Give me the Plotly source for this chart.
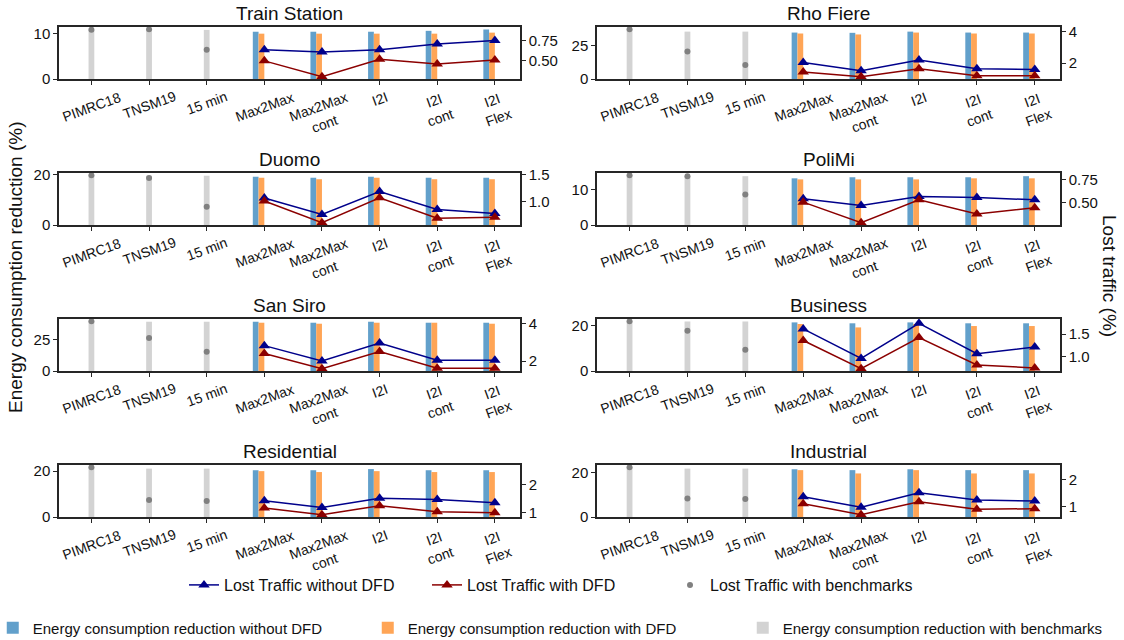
import plotly.graph_objects as go

# ---------------- data ----------------
panels = ["Train Station", "Rho Fiere", "Duomo", "PoliMi",
          "San Siro", "Business", "Residential", "Industrial"]
categories = ["PIMRC18", "TNSM19", "15 min", "Max2Max", "Max2Max<br>cont",
              "I2I", "I2I<br>cont", "I2I<br>Flex"]
bench_idx = [0, 1, 2]
method_idx = [3, 4, 5, 6, 7]

# energy consumption reduction (%) - benchmarks (PIMRC18, TNSM19, 15 min)
energy_bench = [
    [11.0, 10.9, 10.9],
    [36.9, 35.3, 35.3],
    [19.8, 19.7, 19.7],
    [14.0, 13.8, 13.8],
    [39.7, 39.5, 39.5],
    [21.7, 21.7, 21.7],
    [21.6, 21.1, 21.1],
    [22.4, 21.9, 21.9],
]
# energy consumption reduction (%) without DFD (Max2Max .. I2I Flex)
energy_nodfd = [
    [10.5, 10.5, 10.5, 10.7, 11.0],
    [34.6, 34.4, 35.3, 34.6, 34.6],
    [19.3, 18.9, 19.3, 18.9, 18.9],
    [13.2, 13.5, 13.5, 13.5, 13.8],
    [39.5, 38.7, 39.5, 38.7, 38.7],
    [21.3, 20.9, 21.3, 20.9, 20.9],
    [20.4, 20.4, 20.9, 20.4, 20.4],
    [21.6, 21.2, 21.6, 21.2, 21.2],
]
# energy consumption reduction (%) with DFD
energy_dfd = [
    [10.07, 10.07, 10.07, 10.07, 10.3],
    [33.9, 33.2, 34.6, 33.9, 33.9],
    [18.9, 18.3, 18.9, 18.3, 18.3],
    [12.9, 12.9, 12.9, 13.2, 13.2],
    [38.7, 37.9, 38.7, 38.7, 37.9],
    [20.6, 19.1, 20.6, 19.7, 19.7],
    [20.0, 19.6, 20.0, 19.6, 19.6],
    [21.2, 19.7, 21.2, 19.7, 19.7],
]
# lost traffic (%) without DFD
lost_nodfd = [
    [0.637, 0.609, 0.637, 0.706, 0.75],
    [2.04, 1.52, 2.19, 1.65, 1.60],
    [1.072, 0.771, 1.193, 0.861, 0.789],
    [0.542, 0.472, 0.567, 0.556, 0.532],
    [2.83, 2.00, 2.97, 2.04, 2.04],
    [1.62, 0.955, 1.746, 1.06, 1.21],
    [1.42, 1.18, 1.51, 1.47, 1.35],
    [1.366, 0.976, 1.512, 1.244, 1.207],
]
# lost traffic (%) with DFD
lost_dfd = [
    [0.50, 0.306, 0.52, 0.46, 0.512],
    [1.44, 1.15, 1.65, 1.21, 1.21],
    [1.018, 0.620, 1.078, 0.699, 0.717],
    [0.507, 0.289, 0.532, 0.38, 0.447],
    [2.41, 1.59, 2.51, 1.61, 1.61],
    [1.358, 0.724, 1.425, 0.806, 0.739],
    [1.157, 0.916, 1.24, 1.024, 0.988],
    [1.11, 0.707, 1.183, 0.902, 0.927],
]
# lost traffic (%) with benchmarks
lost_bench = [
    [0.883, 0.887, 0.637],
    [4.125, 2.73, 1.875],
    [1.488, 1.44, 0.91],
    [0.792, 0.782, 0.588],
    [4.14, 3.24, 2.50],
    [1.79, 1.58, 1.15],
    [2.64, 1.446, 1.41],
    [2.45, 1.305, 1.28],
]
# tick labels
left_ticks = [[0, 10], [0, 25], [0, 20], [0, 10], [0, 25], [0, 20], [0, 20], [0, 20]]
right_ticks = [[0.5, 0.75], [2, 4], [1.0, 1.5], [0.5, 0.75], [2, 4], [1.0, 1.5], [1, 2], [1, 2]]
right_fmt = [".2f", "d", ".1f", ".2f", "d", ".1f", "d", "d"]

# ---------------- style ----------------
W, H = 1124, 640
FONT = "Liberation Sans, Arial, sans-serif"
C_BLUE = "#62A0CB"
C_ORANGE = "#FFA556"
C_GREY = "#D3D3D3"
C_NAVY = "#00008B"
C_DRED = "#8B0000"
C_DOT = "#808080"
AX = "#262626"

col_px = [(59, 520), (597, 1060)]
row_px = [(27, 79), (173, 225), (319, 371), (465, 517)]
xrange_ = [-0.5625, 7.436]

fig = go.Figure()
annotations = []
layout = {}

for k, name in enumerate(panels):
    r, c = divmod(k, 2)
    x0, x1 = col_px[c][0] / W, col_px[c][1] / W
    y0, y1 = 1 - row_px[r][1] / H, 1 - row_px[r][0] / H
    xa = f"x{k+1}"
    ya = f"y{2*k+1}"
    yb = f"y{2*k+2}"
    show = (k == 0)

    fig.add_trace(go.Bar(x=method_idx, y=energy_nodfd[k], width=0.1, offset=-0.2,
                         marker=dict(color=C_BLUE, line=dict(width=0)),
                         name="Energy consumption reduction without DFD",
                         legend="legend2", showlegend=show, xaxis=xa, yaxis=ya))
    fig.add_trace(go.Bar(x=method_idx, y=energy_dfd[k], width=0.1, offset=-0.1,
                         marker=dict(color=C_ORANGE, line=dict(width=0)),
                         name="Energy consumption reduction with DFD",
                         legend="legend2", showlegend=show, xaxis=xa, yaxis=ya))
    fig.add_trace(go.Bar(x=bench_idx, y=energy_bench[k], width=0.1, offset=-0.05,
                         marker=dict(color=C_GREY, line=dict(width=0)),
                         name="Energy consumption reduction with benchmarks",
                         legend="legend2", showlegend=show, xaxis=xa, yaxis=ya))

    fig.add_trace(go.Scatter(x=method_idx, y=lost_nodfd[k], mode="lines+markers",
                             line=dict(color=C_NAVY, width=1.5),
                             marker=dict(symbol="triangle-up", size=10, color=C_NAVY),
                             name="Lost Traffic without DFD", legend="legend",
                             showlegend=show, xaxis=xa, yaxis=yb))
    fig.add_trace(go.Scatter(x=method_idx, y=lost_dfd[k], mode="lines+markers",
                             line=dict(color=C_DRED, width=1.5),
                             marker=dict(symbol="triangle-up", size=10, color=C_DRED),
                             name="Lost Traffic with DFD", legend="legend",
                             showlegend=show, xaxis=xa, yaxis=yb))
    fig.add_trace(go.Scatter(x=bench_idx, y=lost_bench[k], mode="markers",
                             marker=dict(symbol="circle", size=6, color=C_DOT),
                             name="Lost Traffic with benchmarks", legend="legend",
                             showlegend=show, xaxis=xa, yaxis=yb))

    # ranges (matplotlib-like autoscale)
    emax = max(energy_bench[k] + energy_nodfd[k] + energy_dfd[k])
    lall = lost_nodfd[k] + lost_dfd[k] + lost_bench[k]
    lmin, lmax = min(lall), max(lall)
    span = lmax - lmin

    layout[f"xaxis{k+1}"] = dict(
        domain=[x0, x1], anchor=ya, range=xrange_,
        tickvals=list(range(len(categories))), showticklabels=False,
        ticks="outside", ticklen=4, tickwidth=1.2, tickcolor=AX,
        showline=True, linecolor=AX, linewidth=1.5, mirror=True,
        showgrid=False, zeroline=False, fixedrange=True)
    layout[f"yaxis{2*k+1}"] = dict(
        domain=[y0, y1], anchor=xa, range=[0, emax * 1.05],
        tickvals=left_ticks[k], ticks="outside", ticklen=4, tickwidth=1.2,
        tickcolor=AX, showline=True, linecolor=AX, linewidth=1.5, mirror=True,
        showgrid=False, zeroline=False, tickfont=dict(size=15, color="#111"))
    layout[f"yaxis{2*k+2}"] = dict(
        overlaying=ya, anchor=xa, side="right",
        range=[lmin - 0.05 * span, lmax + 0.05 * span],
        tickvals=right_ticks[k], tickformat=right_fmt[k],
        ticks="outside", ticklen=4, tickwidth=1.2, tickcolor=AX,
        showline=True, linecolor=AX, linewidth=1.5,
        showgrid=False, zeroline=False, tickfont=dict(size=15, color="#111"))

    # subplot title
    annotations.append(dict(text=name, x=(x0 + x1) / 2, y=y1, xref="paper", yref="paper",
                            xanchor="center", yanchor="bottom", yshift=1, showarrow=False,
                            font=dict(size=19, color="#111")))
    # rotated category labels
    for i, cat in enumerate(categories):
        annotations.append(dict(text=cat, x=i, xref=xa, y=y0, yref="paper",
                                xanchor="center", yanchor="top", yshift=-7,
                                textangle=-20, showarrow=False, align="center",
                                font=dict(size=14, color="#111")))

annotations.append(dict(text="Energy consumption reduction (%)", x=15 / W, y=1 - 268 / H,
                        xref="paper", yref="paper", xanchor="center", yanchor="middle",
                        textangle=-90, showarrow=False, font=dict(size=19, color="#111")))
annotations.append(dict(text="Lost traffic (%)", x=1110 / W, y=1 - 276 / H,
                        xref="paper", yref="paper", xanchor="center", yanchor="middle",
                        textangle=90, showarrow=False, font=dict(size=19, color="#111")))

fig.update_layout(
    width=W, height=H,
    margin=dict(l=0, r=0, t=0, b=0, autoexpand=False),
    paper_bgcolor="white", plot_bgcolor="white",
    barmode="overlay",
    font=dict(family=FONT, size=15, color="#111"),
    annotations=annotations,
    legend=dict(orientation="h", x=0.488, xanchor="center", y=1 - 585 / H, yanchor="middle",
                entrywidth=198, entrywidthmode="pixels", font=dict(size=16),
                bgcolor="rgba(0,0,0,0)", traceorder="normal"),
    legend2=dict(orientation="h", x=0.494, xanchor="center", y=1 - 628 / H, yanchor="middle",
                 entrywidth=330, entrywidthmode="pixels", font=dict(size=15),
                 bgcolor="rgba(0,0,0,0)", traceorder="normal"),
    **layout,
)

fig.write_html("out.html",
               config={"displayModeBar": False},
               post_script="document.body.style.margin='0px';document.body.style.overflow='hidden';")
